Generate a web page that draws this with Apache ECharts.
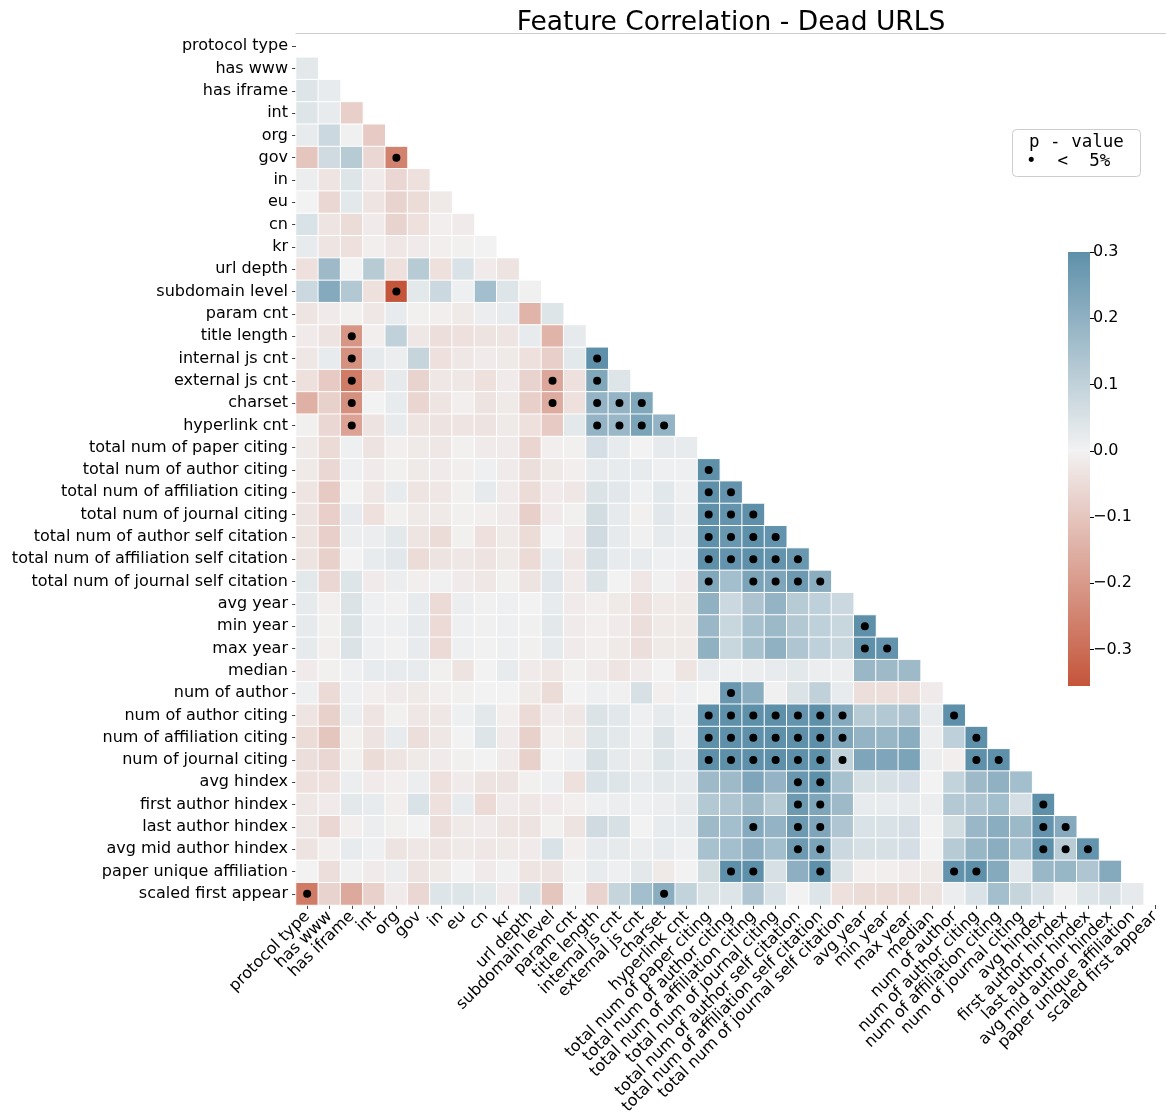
<!DOCTYPE html>
<html>
<head>
<meta charset="utf-8">
<title>Feature Correlation - Dead URLS</title>
<script src="https://cdn.jsdelivr.net/npm/echarts@6/dist/echarts.min.js"></script>
<style>
  html, body { margin: 0; padding: 0; background: #fff; }
  #chart { width: 1166px; height: 1118px; }
</style>
</head>
<body>
<div id="chart"></div>
<script>
// feature names (rows top->bottom, columns left->right)
var features = [
  "protocol type", "has www", "has iframe", "int", "org", "gov", "in", "eu", "cn", "kr",
  "url depth", "subdomain level", "param cnt", "title length", "internal js cnt",
  "external js cnt", "charset", "hyperlink cnt", "total num of paper citing",
  "total num of author citing", "total num of affiliation citing", "total num of journal citing",
  "total num of author self citation", "total num of affiliation self citation",
  "total num of journal self citation", "avg year", "min year", "max year", "median",
  "num of author", "num of author citing", "num of affiliation citing", "num of journal citing",
  "avg hindex", "first author hindex", "last author hindex", "avg mid author hindex",
  "paper unique affiliation", "scaled first appear"
];

// lower triangle of the correlation matrix, row i holds columns 0..i-1
var corrRows = [
  [],
  [0.03],
  [0.04, 0.02],
  [0.04, 0.02, -0.08],
  [0.02, 0.08, 0.005, -0.09],
  [-0.1, 0.07, 0.12, -0.06, -0.25],
  [0.015, -0.03, 0.04, -0.015, -0.06, -0.04],
  [0.0, -0.06, 0.03, -0.03, -0.07, -0.05, -0.02],
  [0.05, -0.03, -0.05, -0.015, -0.07, -0.04, -0.01, -0.015],
  [0.02, -0.03, -0.04, -0.01, -0.025, -0.015, -0.01, -0.005, 0.0],
  [-0.04, 0.17, 0.0, 0.12, -0.04, 0.12, -0.04, 0.05, -0.015, -0.035],
  [0.08, 0.22, 0.13, -0.04, -0.355, 0.03, 0.08, 0.01, 0.16, 0.04, 0.005],
  [-0.03, -0.015, -0.005, -0.025, 0.02, -0.005, -0.01, -0.02, 0.015, 0.02, -0.14, 0.04],
  [-0.015, -0.035, -0.21, -0.01, 0.1, -0.025, -0.045, -0.04, -0.035, -0.03, 0.02, -0.14, 0.025],
  [-0.025, 0.02, -0.22, 0.025, 0.015, 0.09, -0.04, -0.025, -0.015, -0.02, -0.04, -0.08, 0.03, 0.3],
  [-0.04, -0.09, -0.27, -0.04, 0.025, -0.07, -0.025, -0.025, -0.04, -0.015, -0.07, -0.17, -0.04, 0.23, 0.04],
  [-0.15, -0.075, -0.22, 0.0, 0.02, -0.065, -0.03, -0.01, -0.035, -0.02, -0.08, -0.16, -0.04, 0.19, 0.19, 0.23],
  [-0.005, -0.06, -0.18, -0.035, 0.02, -0.03, -0.035, -0.03, -0.035, -0.02, -0.04, -0.09, 0.03, 0.19, 0.18, 0.24, 0.19],
  [-0.02, -0.055, 0.01, -0.035, -0.01, -0.02, -0.025, -0.005, -0.015, -0.015, -0.065, -0.01, -0.005, 0.06, 0.02, 0.0, 0.025, 0.02],
  [-0.02, -0.06, 0.01, -0.015, -0.005, -0.02, -0.015, -0.01, 0.01, -0.015, -0.045, -0.02, -0.01, 0.025, 0.02, 0.02, 0.01, 0.01, 0.3],
  [-0.03, -0.09, 0.0, -0.025, 0.02, -0.03, -0.025, -0.005, 0.025, -0.015, -0.05, -0.015, -0.025, 0.045, 0.035, 0.01, 0.035, 0.01, 0.3, 0.29],
  [-0.035, -0.08, 0.02, -0.04, -0.005, -0.02, -0.02, -0.005, -0.01, -0.015, -0.08, -0.015, -0.005, 0.065, 0.025, -0.005, 0.035, 0.015, 0.3, 0.29, 0.3],
  [-0.035, -0.08, 0.015, 0.015, 0.03, -0.03, -0.05, -0.005, -0.04, -0.02, -0.05, 0.0, -0.015, 0.07, 0.025, 0.005, 0.025, 0.015, 0.3, 0.28, 0.3, 0.29],
  [-0.035, -0.075, 0.0, 0.02, 0.035, -0.05, -0.035, -0.025, -0.035, -0.02, -0.055, 0.02, -0.025, 0.055, 0.02, 0.02, 0.01, 0.01, 0.3, 0.29, 0.3, 0.29, 0.28],
  [0.03, -0.06, 0.04, -0.015, 0.015, -0.01, 0.005, -0.015, -0.025, -0.005, -0.035, 0.035, -0.015, 0.045, 0.0, -0.025, 0.005, -0.015, 0.23, 0.16, 0.24, 0.235, 0.27, 0.21],
  [0.025, -0.01, 0.045, 0.01, 0.002, 0.02, -0.055, 0.015, 0.005, 0.01, 0.0, 0.02, -0.015, -0.01, -0.02, -0.04, -0.02, -0.02, 0.2, 0.08, 0.14, 0.19, 0.12, 0.105, 0.08],
  [0.025, -0.005, 0.045, 0.01, 0.01, 0.025, -0.055, 0.01, 0.005, 0.01, 0.005, 0.03, -0.015, -0.01, -0.015, -0.045, -0.02, -0.02, 0.18, 0.085, 0.15, 0.175, 0.13, 0.105, 0.085, 0.3],
  [0.025, -0.01, 0.045, 0.01, 0.002, 0.02, -0.055, 0.01, 0.003, 0.01, -0.005, 0.025, -0.015, -0.01, -0.02, -0.045, -0.02, -0.02, 0.2, 0.085, 0.15, 0.2, 0.135, 0.105, 0.085, 0.3, 0.29],
  [-0.015, -0.005, 0.01, 0.02, 0.02, 0.02, -0.005, -0.035, 0.0, 0.02, -0.015, -0.025, -0.005, -0.015, -0.03, -0.015, 0.0, -0.03, 0.02, 0.01, 0.015, 0.02, 0.03, 0.015, 0.015, 0.18, 0.17, 0.17],
  [0.01, -0.055, 0.01, -0.01, -0.015, -0.02, -0.01, -0.005, 0.0, 0.0, -0.02, -0.05, 0.0, 0.01, 0.005, 0.055, -0.01, 0.01, 0.0, 0.28, 0.21, 0.005, 0.045, 0.1, 0.02, -0.045, -0.045, -0.045, -0.015],
  [-0.03, -0.075, 0.015, -0.03, -0.005, -0.025, -0.025, 0.01, 0.03, -0.01, -0.055, -0.015, -0.025, 0.045, 0.035, 0.01, 0.025, 0.01, 0.3, 0.3, 0.3, 0.3, 0.29, 0.3, 0.22, 0.12, 0.13, 0.14, 0.02, 0.3],
  [-0.05, -0.1, -0.005, -0.035, 0.02, -0.045, -0.025, 0.0, 0.04, -0.015, -0.075, -0.01, -0.02, 0.04, 0.03, 0.01, 0.045, 0.01, 0.3, 0.3, 0.3, 0.3, 0.3, 0.3, 0.235, 0.19, 0.185, 0.21, 0.015, 0.105, 0.3],
  [-0.045, -0.06, -0.005, -0.05, -0.03, -0.02, -0.015, -0.005, 0.0, -0.015, -0.075, 0.0, 0.01, 0.055, 0.025, 0.015, 0.04, 0.02, 0.3, 0.3, 0.3, 0.3, 0.3, 0.3, 0.1, 0.235, 0.235, 0.24, 0.015, -0.01, 0.3, 0.3],
  [-0.04, -0.04, 0.015, -0.015, -0.01, 0.015, -0.04, -0.015, -0.035, -0.035, -0.005, 0.01, -0.04, 0.05, 0.04, 0.02, 0.03, 0.025, 0.17, 0.17, 0.235, 0.19, 0.28, 0.3, 0.15, 0.055, 0.055, 0.06, 0.0, 0.095, 0.17, 0.2, 0.16],
  [-0.025, -0.015, 0.03, 0.02, -0.01, 0.05, -0.04, 0.02, -0.055, -0.015, -0.025, -0.015, -0.01, 0.01, 0.015, 0.01, 0.015, 0.025, 0.13, 0.135, 0.17, 0.12, 0.27, 0.235, 0.17, 0.02, 0.02, 0.025, 0.015, 0.125, 0.135, 0.16, 0.06, 0.3],
  [-0.025, -0.06, -0.01, 0.015, -0.005, 0.0, -0.045, -0.02, -0.015, -0.03, -0.035, -0.005, -0.035, 0.07, 0.055, 0.0, 0.02, 0.02, 0.17, 0.16, 0.22, 0.19, 0.27, 0.235, 0.135, 0.05, 0.05, 0.06, 0.0, 0.065, 0.18, 0.21, 0.175, 0.29, 0.22],
  [-0.035, -0.01, 0.02, 0.01, -0.035, -0.025, -0.03, -0.02, -0.025, -0.02, -0.015, 0.05, -0.01, 0.025, 0.025, 0.015, 0.02, 0.01, 0.15, 0.16, 0.205, 0.16, 0.27, 0.24, 0.08, 0.055, 0.055, 0.06, 0.0, 0.12, 0.185, 0.21, 0.16, 0.3, 0.115, 0.29],
  [0.0, -0.045, 0.005, -0.015, 0.015, -0.035, -0.02, 0.0, -0.015, 0.005, -0.03, -0.035, 0.005, 0.02, 0.01, 0.03, -0.02, 0.0, 0.065, 0.3, 0.3, 0.055, 0.205, 0.3, 0.045, -0.01, -0.01, -0.015, -0.02, 0.29, 0.3, 0.22, 0.035, 0.18, 0.185, 0.135, 0.22],
  [-0.27, -0.07, -0.165, -0.075, -0.015, -0.06, 0.04, 0.04, 0.03, -0.015, 0.045, -0.1, 0.0, -0.07, 0.09, 0.16, 0.21, 0.095, 0.045, 0.04, 0.135, 0.05, 0.0, 0.04, -0.04, -0.05, -0.05, -0.05, -0.035, 0.015, 0.05, 0.16, 0.09, 0.055, 0.01, 0.04, 0.055, 0.025]
];

// cells with p < 5%, as [row, column]
var sigCells = [
  [5, 4], [11, 4],
  [13, 2], [14, 2], [15, 2], [16, 2], [17, 2],
  [14, 13], [15, 11], [15, 13],
  [16, 11], [16, 13], [16, 14], [16, 15],
  [17, 13], [17, 14], [17, 15], [17, 16],
  [19, 18], [20, 18], [20, 19],
  [21, 18], [21, 19], [21, 20],
  [22, 18], [22, 19], [22, 20], [22, 21],
  [23, 18], [23, 19], [23, 20], [23, 21], [23, 22],
  [24, 18], [24, 20], [24, 21], [24, 22], [24, 23],
  [26, 25], [27, 25], [27, 26],
  [29, 19],
  [30, 18], [30, 19], [30, 20], [30, 21], [30, 22], [30, 23], [30, 24], [30, 29],
  [31, 18], [31, 19], [31, 20], [31, 21], [31, 22], [31, 23], [31, 24], [31, 30],
  [32, 18], [32, 19], [32, 20], [32, 21], [32, 22], [32, 23], [32, 24], [32, 30], [32, 31],
  [33, 22], [33, 23],
  [34, 22], [34, 23], [34, 33],
  [35, 20], [35, 22], [35, 23], [35, 33], [35, 34],
  [36, 22], [36, 23], [36, 33], [36, 34], [36, 35],
  [37, 19], [37, 20], [37, 23], [37, 29], [37, 30],
  [38, 0], [38, 16]
];

// colour scale (centered on 0) and colour bar
var colorRange = [-0.355, 0.355];
var paletteColors = ["#c4553a", "#f2f2f2", "#437e9d"];
var cbarRange = [-0.355, 0.3];
var cbarTicks = [-0.3, -0.2, -0.1, 0, 0.1, 0.2, 0.3];

var font = "DejaVu Sans";

function hexToRgb(h) {
  return [parseInt(h.substr(1, 2), 16), parseInt(h.substr(3, 2), 16), parseInt(h.substr(5, 2), 16)];
}
// same linear interpolation as the visualMap uses
function colorAt(v) {
  var t = (v - colorRange[0]) / (colorRange[1] - colorRange[0]);
  var seg = t < 0.5 ? 0 : 1;
  var lt = t < 0.5 ? t * 2 : (t - 0.5) * 2;
  var a = hexToRgb(paletteColors[seg]), b = hexToRgb(paletteColors[seg + 1]);
  var c = a.map(function (x, k) { return Math.round(x + (b[k] - x) * lt); });
  return "rgb(" + c.join(",") + ")";
}

var heatData = [];
corrRows.forEach(function (row, i) {
  row.forEach(function (v, j) {
    heatData.push([j, i, v]);
  });
});
var dotData = sigCells.map(function (c) { return [c[1], c[0]]; });

var myChart = echarts.init(document.getElementById("chart"), null, { renderer: "canvas" });

var option = {
  backgroundColor: "#fff",
  animation: false,
  graphic: [
    {
      type: "text",
      x: 731, y: 23,
      style: {
        text: "Feature Correlation - Dead URLS",
        font: "26.5px " + font,
        fill: "#000",
        align: "center",
        verticalAlign: "middle"
      }
    },
    {
      type: "rect",
      shape: { x: 1012.5, y: 129.5, width: 128, height: 47, r: 4 },
      style: { fill: "#fff", stroke: "#cccccc", lineWidth: 1 }
    },
    {
      type: "text",
      x: 1029, y: 142,
      style: { text: "p - value", font: "17.5px 'DejaVu Sans Mono'", fill: "#000", verticalAlign: "middle" }
    },
    {
      type: "text",
      x: 1026, y: 161,
      style: { text: "\u2022  <  5%", font: "17.5px 'DejaVu Sans Mono'", fill: "#000", verticalAlign: "middle" }
    }
  ],
  grid: [
    { left: 296, top: 35, width: 870, height: 870 },
    { left: 1068, top: 252, width: 22, height: 434 }
  ],
  xAxis: [
    {
      type: "category",
      gridIndex: 0,
      data: features,
      position: "bottom",
      axisLine: { show: false },
      axisTick: { show: true, alignWithLabel: true, length: 4, lineStyle: { color: "#444" } },
      axisLabel: {
        rotate: 45, interval: 0, margin: 9,
        fontFamily: font, fontSize: 16, color: "#000"
      },
      splitLine: { show: false }
    },
    {
      type: "category",
      gridIndex: 0,
      data: features,
      position: "top",
      offset: 2,
      axisLine: { show: true, lineStyle: { color: "#cccccc", width: 1 } },
      axisTick: { show: false },
      axisLabel: { show: false }
    },
    {
      type: "category",
      gridIndex: 1,
      data: [""],
      axisLine: { show: false },
      axisTick: { show: false },
      axisLabel: { show: false }
    }
  ],
  yAxis: [
    {
      type: "category",
      gridIndex: 0,
      data: features,
      inverse: true,
      axisLine: { show: false },
      axisTick: { show: true, alignWithLabel: true, length: 4, lineStyle: { color: "#444" } },
      axisLabel: { interval: 0, margin: 8, fontFamily: font, fontSize: 16, color: "#000" },
      splitLine: { show: false }
    },
    {
      type: "value",
      gridIndex: 1,
      position: "right",
      min: cbarRange[0],
      max: cbarRange[1],
      axisLine: { show: false },
      splitLine: { show: false },
      axisTick: { show: true, length: 4, customValues: cbarTicks, lineStyle: { color: "#000" } },
      axisLabel: {
        customValues: cbarTicks,
        margin: 3,
        fontFamily: font, fontSize: 16, color: "#000",
        formatter: function (v) {
          return (v < -1e-9 ? "\u2212" : "") + Math.abs(v).toFixed(1);
        }
      }
    }
  ],
  visualMap: {
    show: false,
    type: "continuous",
    seriesIndex: 0,
    min: colorRange[0],
    max: colorRange[1],
    inRange: { color: paletteColors }
  },
  series: [
    {
      name: "corr",
      type: "heatmap",
      xAxisIndex: 0,
      yAxisIndex: 0,
      data: heatData,
      itemStyle: { borderColor: "#fff", borderWidth: 1 },
      emphasis: { disabled: true }
    },
    {
      name: "p < 5%",
      type: "scatter",
      xAxisIndex: 0,
      yAxisIndex: 0,
      data: dotData,
      symbol: "circle",
      symbolSize: 8,
      itemStyle: { color: "#000", opacity: 1 },
      emphasis: { disabled: true },
      z: 5
    },
    {
      name: "cbar+",
      type: "bar",
      xAxisIndex: 2,
      yAxisIndex: 1,
      data: [cbarRange[1]],
      barWidth: "100%",
      barGap: "-100%",
      itemStyle: {
        color: new echarts.graphic.LinearGradient(0, 0, 0, 1, [
          { offset: 0, color: colorAt(cbarRange[1]) },
          { offset: 1, color: colorAt(0) }
        ])
      }
    },
    {
      name: "cbar-",
      type: "bar",
      xAxisIndex: 2,
      yAxisIndex: 1,
      data: [cbarRange[0]],
      barWidth: "100%",
      barGap: "-100%",
      itemStyle: {
        color: new echarts.graphic.LinearGradient(0, 0, 0, 1, [
          { offset: 0, color: colorAt(0) },
          { offset: 1, color: colorAt(cbarRange[0]) }
        ])
      }
    }
  ]
};

myChart.setOption(option);
window.onresize = function () {
  myChart.resize();
};
</script>
</body>
</html>
